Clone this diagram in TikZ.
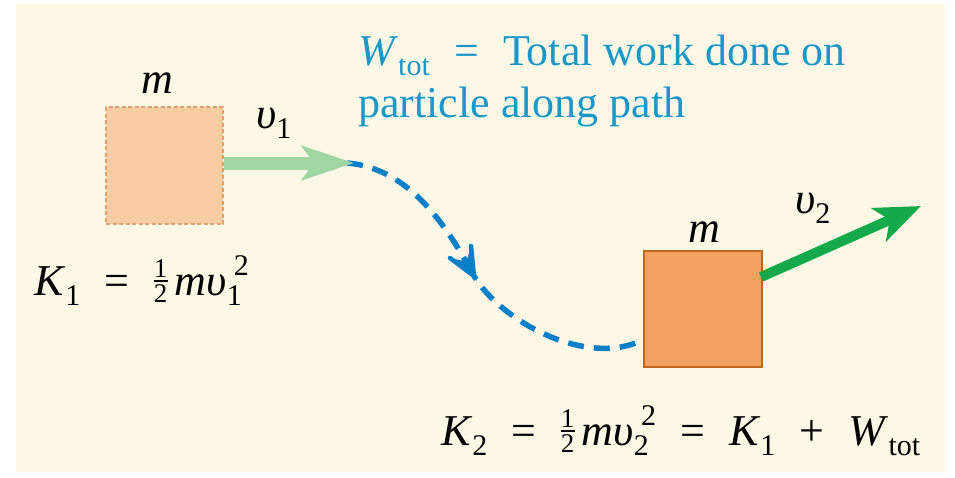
\documentclass[tikz,border=0pt]{standalone}
\usepackage{fontspec}
\setmainfont{Liberation Serif}
\usetikzlibrary{arrows.meta}
\definecolor{cream}{HTML}{FDF8E6}
\definecolor{peachlight}{HTML}{F8CDA2}
\definecolor{peachedge}{HTML}{DDA070}
\definecolor{orangebox}{HTML}{F3A15E}
\definecolor{orangeedge}{HTML}{BF661F}
\definecolor{greenlight}{HTML}{9FD6A2}
\definecolor{greendark}{HTML}{14A94A}
\definecolor{pathblue}{HTML}{0B80C8}
\definecolor{textblue}{HTML}{1B97C9}
\newcommand{\lowr}[1]{\raisebox{-0.5ex}{\fontsize{30}{30}\selectfont #1}}
\newcommand{\subsupr}[2]{\rlap{\raisebox{-0.5ex}{\fontsize{30}{30}\selectfont #1}}\raisebox{0.95ex}{\hspace{0.16em}\fontsize{30}{30}\selectfont #2}}
\newcommand{\myhalf}{\lower 7pt\vbox{\fontsize{27}{27}\selectfont\offinterlineskip\halign{\hfil##\hfil\cr 1\cr\noalign{\kern2.5pt}\rule{14pt}{1.3pt}\cr\noalign{\kern2.5pt}2\cr}}}
\newcommand{\opsp}[1]{\hspace{0.55em}#1\hspace{0.55em}}
\begin{document}
\begin{tikzpicture}[x=1pt,y=-1pt,
  lbl/.style={inner sep=0pt,anchor=base west,font=\fontsize{44}{52}\selectfont},
  lightbox/.style={draw=peachedge,fill=peachlight,dash pattern=on 4pt off 2.5pt,line width=1.5pt,minimum width=117pt,minimum height=117pt,inner sep=0pt},
  darkbox/.style={draw=orangeedge,fill=orangebox,line width=2.6pt,minimum width=118pt,minimum height=116pt,inner sep=0pt},
  pathline/.style={draw=pathblue,line width=5.5pt,dash pattern=on 16pt off 10pt}]
\useasboundingbox (0,0) rectangle (955,477);
\fill[white] (0,0) rectangle (955,477);
\fill[cream] (16,4) rectangle (945,472);
% boxes
\node[lightbox] (b1) at (164.5,165.5) {};
\node[darkbox] (b2) at (703,309) {};
% coordinates
\coordinate (p1) at (354,163);
\coordinate (ps) at (347,163);
\coordinate (pm) at (474,276);
\coordinate (pe) at (644,340);
\coordinate (b2s) at (761,277);
\coordinate (p2) at (921,206);
% dashed path
\draw[pathline] (ps) .. controls (410,168) and (448,228) .. (pm);
\draw[pathline,dash phase=12pt] (pm) .. controls (500,320) and (585,368) .. (b2.west |- pe);
% arrowhead on the path
\fill[pathblue] (pm) -- (450,258) -- (466.5,261.5) -- (471,246) -- cycle;
\draw[pathblue,line width=4.5pt,line cap=round,line join=miter] (450,258) -- (pm) -- (471,246);
% v1 arrow
\draw[greenlight,line width=13pt,-{Stealth[length=52pt,width=34pt,inset=12pt]}] (b1.east |- p1) -- (p1);
% v2 arrow
\draw[greendark,line width=10pt,-{Stealth[length=46pt,width=36pt,inset=12pt]}] (b2s) -- (p2);
% labels
\node[lbl] (m1) at (141,93) {\textit{m}};
\node[lbl] (m2) at (688,242) {\textit{m}};
\node[lbl] (v1) at (256,128) {\textit{υ}\lowr{1}};
\node[lbl] (v2) at (795,213) {\textit{υ}\lowr{2}};
\node[lbl] (k1) at (34,295) {\textit{K}\lowr{1}\opsp{=}\myhalf\,\textit{mυ}\subsupr{1}{2}};
\node[lbl] (k2) at (441,445) {\textit{K}\lowr{2}\opsp{=}\myhalf\,\textit{mυ}\subsupr{2}{2}\opsp{=}\textit{K}\lowr{1}\opsp{+}\textit{W}\lowr{tot}};
\node[lbl,text=textblue,align=left,anchor=north west] (wt) at (358,35) {\textit{W}\lowr{tot}\opsp{=}Total work done on\\particle along path};
\end{tikzpicture}
\end{document}
